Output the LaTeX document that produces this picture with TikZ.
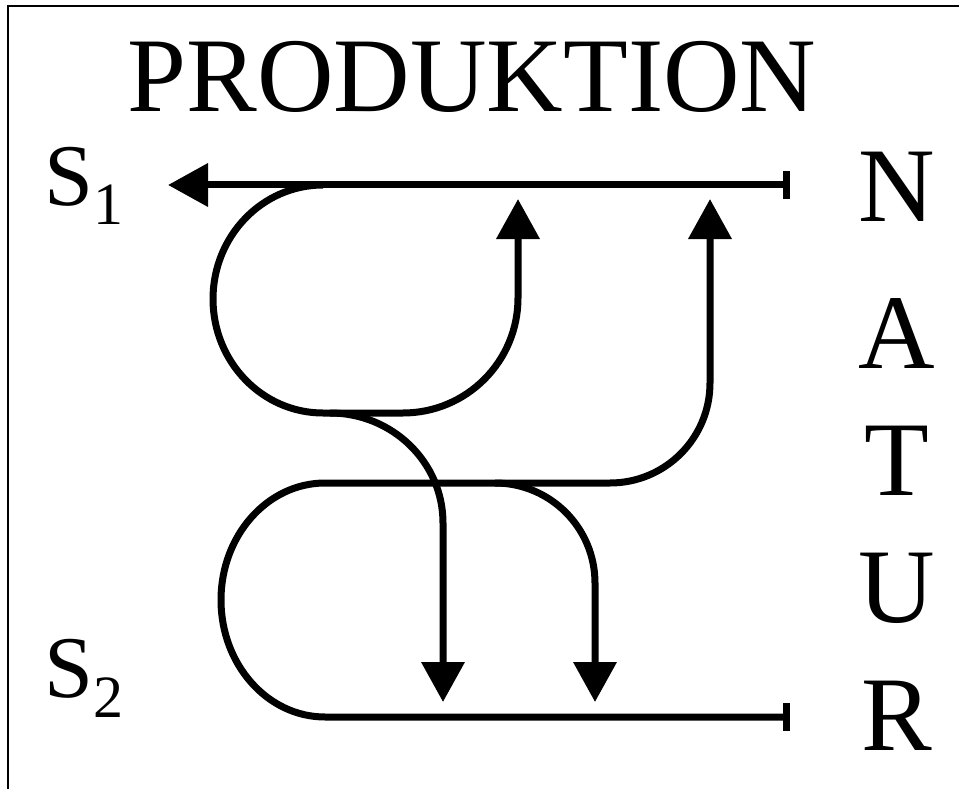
\documentclass[tikz,border=0pt]{standalone}
\usepackage{fontspec}
\setmainfont{Liberation Serif}
\usetikzlibrary{arrows.meta}

\begin{document}
\begin{tikzpicture}[
  x=1pt, y=-1pt,
  flow/.style={line width=7pt},
  tip/.style={-{Triangle[length=40pt,width=42pt]}},
  bigletter/.style={font=\fontsize{106}{106}\selectfont, inner sep=0pt, anchor=base},
  slabel/.style={font=\fontsize{88}{88}\selectfont, inner sep=0pt, anchor=base west}
]
\useasboundingbox (0,0) rectangle (959,789);
\draw[line width=2pt] (8,789) -- (8,6) -- (959,6);

% labels
\node[bigletter] (prod) at (472,112) {PRODUKTION};
\node[bigletter] (nN) at (897,221) {N};
\node[bigletter] (nA) at (897,368) {A};
\node[bigletter] (nT) at (897,495) {T};
\node[bigletter] (nU) at (897,622) {U};
\node[bigletter] (nR) at (897,750) {R};
\node[slabel] (s1) at (44,205) {S\raisebox{-20pt}{\fontsize{60}{60}\selectfont 1}};
\node[slabel] (s2) at (44,697) {S\raisebox{-20pt}{\fontsize{60}{60}\selectfont 2}};

% end points
\coordinate (barTop) at (790,185);
\coordinate (tipS1) at (168,185);
\coordinate (barBot) at (790,717);
\coordinate (loopA) at (323,185);
\coordinate (loopB) at (325,717);
\coordinate (upA) at (518,199);
\coordinate (upB) at (710,199);
\coordinate (downA) at (443,702);
\coordinate (downB) at (595,702);
\coordinate (forkA) at (330,413);
\coordinate (forkB) at (495,483);

% main lines
\draw[flow, {Bar[width=28pt]}-{Triangle[length=40pt,width=42pt]}] (barTop) -- (tipS1);

% upper loop
\draw[flow, tip] (loopA) arc[start angle=90, end angle=270, x radius=110pt, y radius=114pt]
  -- (403,413) arc[start angle=270, end angle=360, radius=115pt] -- (upA);
\draw[flow, tip] (forkA) arc[start angle=90, end angle=0, x radius=113pt, y radius=110pt] -- (downA);

% lower loop
\draw[flow, {Bar[width=28pt]}-{Triangle[length=40pt,width=42pt]}] (barBot) -- (loopB)
  arc[start angle=270, end angle=90, x radius=104pt, y radius=117pt]
  -- (610,483) arc[start angle=270, end angle=360, radius=100pt] -- (upB);
\draw[flow, tip] (forkB) arc[start angle=90, end angle=0, radius=100pt] -- (downB);
\end{tikzpicture}
\end{document}
